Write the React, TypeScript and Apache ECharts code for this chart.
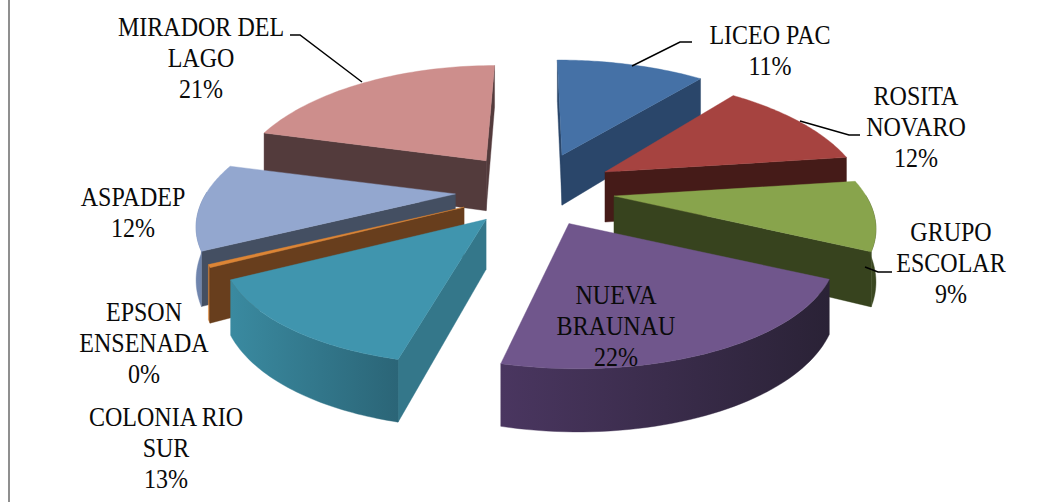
import React, { useEffect, useRef } from "react";
import * as echarts from "echarts";

const categories = ["LICEO PAC", "ROSITA NOVARO", "GRUPO ESCOLAR", "NUEVA BRAUNAU", "COLONIA RIO SUR", "EPSON ENSENADA", "ASPADEP", "MIRADOR DEL LAGO"];
const labelLines = [["LICEO PAC"], ["ROSITA", "NOVARO"], ["GRUPO", "ESCOLAR"], ["NUEVA", "BRAUNAU"], ["COLONIA RIO", "SUR"], ["EPSON", "ENSENADA"], ["ASPADEP"], ["MIRADOR DEL", "LAGO"]];
const values = [11, 12, 9.4, 21.6, 13.4, 0.4, 11.6, 21];
const topColors = ["#4571a6", "#a64340", "#88a44c", "#70568c", "#4095ae", "#dd8535", "#93a7cf", "#cd8e8c"];
const wallColors = ["#2a466a", "#451b18", "#37431e", "#2c2339", "#34778a", "#683e1d", "#444f62", "#533b3c"];
const sideLeft = ["#2a466a", "#451b18", "#46552a", "#4a3660", "#3a8aa0", "#dd8535", "#7186ae", "#533b3c"];
const sideRight = ["#2a466a", "#451b18", "#37431e", "#2a2236", "#2b6577", "#683e1d", "#6a80a8", "#533b3c"];

const labelCenters = [[770, 20], [916, 81], [951, 217], [616, 280], [166, 402], [144, 297], [133, 182], [201, 12]];
const radiusScale = [1, 0.97, 0.97, 1, 0.985, 0.97, 0.96, 0.94];
const leaders = [
  [[692, 42], [680, 42], [632, 66]],
  [[860, 135], [849, 135], [800, 121]],
  [[892, 272], [878, 272], [865, 267]],
  [[290, 35], [300, 35], [362, 82]],
];

const total = values.reduce((a, b) => a + b, 0);
const cumulative = values.map((_, i) => values.slice(0, i).reduce((a, b) => a + b, 0));
const rad = (share: number) => (share / total) * Math.PI * 2;

const CX = 535, CY = 190, EX = 80, EY = 37, RX = 260, RY = 115, DIST = 4.8, DEPTH = 50, STEPS = 48;
const midOf = (i: number) => rad(cumulative[i] + values[i] / 2);
const order = categories.map((_, i) => i).sort((a, b) => Math.cos(midOf(b)) - Math.cos(midOf(a)));

function project(i: number, r: number, t: number, z: number) {
  const m = midOf(i);
  const ax = CX + EX * Math.sin(m), ay = CY - EY * Math.cos(m);
  const lx = r * Math.sin(t), ly = -r * Math.cos(t);
  const s = DIST / (DIST - ly);
  const k = radiusScale[i];
  return [CX + (ax - CX) * s + lx * RX * k * s, ay + ly * RY * s + z * DEPTH * s];
}
const area = (p: number[][]) => {
  let a = 0;
  for (let k = 0; k < p.length; k++) {
    const q = p[(k + 1) % p.length];
    a += p[k][0] * q[1] - q[0] * p[k][1];
  }
  return a;
};

function renderItem(_: any, api: any) {
  const i = api.value(0);
  const t0 = rad(cumulative[i]), t1 = rad(cumulative[i] + values[i]);
  const arc: number[] = [];
  for (let k = 0; k <= STEPS; k++) arc.push(t0 + ((t1 - t0) * k) / STEPS);
  const children: any[] = [];
  const poly = (points: number[][], fill: any) => ({ type: "polygon", shape: { points }, style: { fill, stroke: fill, lineWidth: 0.4 } });
  const w0 = [project(i, 0, 0, 0), project(i, 0, 0, 1), project(i, 1, t0, 1), project(i, 1, t0, 0)];
  const w1 = [project(i, 0, 0, 0), project(i, 1, t1, 0), project(i, 1, t1, 1), project(i, 0, 0, 1)];
  if (area(w0) > 0) children.push(poly(w0, wallColors[i]));
  if (area(w1) > 0) children.push(poly(w1, wallColors[i]));
  const vis = arc.filter((t) => Math.cos(t) < 0.02);
  if (vis.length > 1) {
    const pts = [...vis.map((t) => project(i, 1, t, 0)), ...vis.slice().reverse().map((t) => project(i, 1, t, 1))];
    children.push(poly(pts, new echarts.graphic.LinearGradient(0, 0, 1, 0, [{ offset: 0, color: sideLeft[i] }, { offset: 1, color: sideRight[i] }])));
  }
  const top = [project(i, 0, 0, 0), ...arc.map((t) => project(i, 1, t, 0))];
  children.push(poly(top, topColors[i]));
  return { type: "group", children };
}

export default function App() {
  const ref = useRef<HTMLDivElement>(null);
  useEffect(() => {
    document.body.style.margin = "0";
    const chart = echarts.init(ref.current!, null, { renderer: "svg" });
    const text = categories.map((_, i) => ({
      type: "text",
      z: 20,
      x: labelCenters[i][0],
      y: labelCenters[i][1],
      scaleX: 0.89,
      style: {
        text: [...labelLines[i], Math.round((values[i] / total) * 100) + "%"].join("\n"),
        font: '27px "Liberation Serif"',
        lineHeight: 31,
        fill: "#0a0a0a",
        textAlign: "center",
        textVerticalAlign: "top",
      },
    }));
    const lines = leaders.map((points) => ({
      type: "polyline",
      z: 15,
      shape: { points },
      style: { stroke: "#000", lineWidth: 1.5, fill: "none" },
    }));
    chart.setOption({
      animation: false,
      backgroundColor: "#fff",
      series: [{
        type: "custom",
        coordinateSystem: "none",
        renderItem,
        data: order.map((i) => [i, values[i]]),
        silent: true,
        z: 5,
      }],
      graphic: [
        { type: "rect", z: 1, shape: { x: 8, y: 0, width: 2, height: 502 }, style: { fill: "#8f8f8f" } },
        ...lines,
        ...text,
      ],
    });
    return () => chart.dispose();
  }, []);
  return <div ref={ref} style={{ position: "absolute", left: 0, top: 0, width: 1045, height: 502 }} />;
}
